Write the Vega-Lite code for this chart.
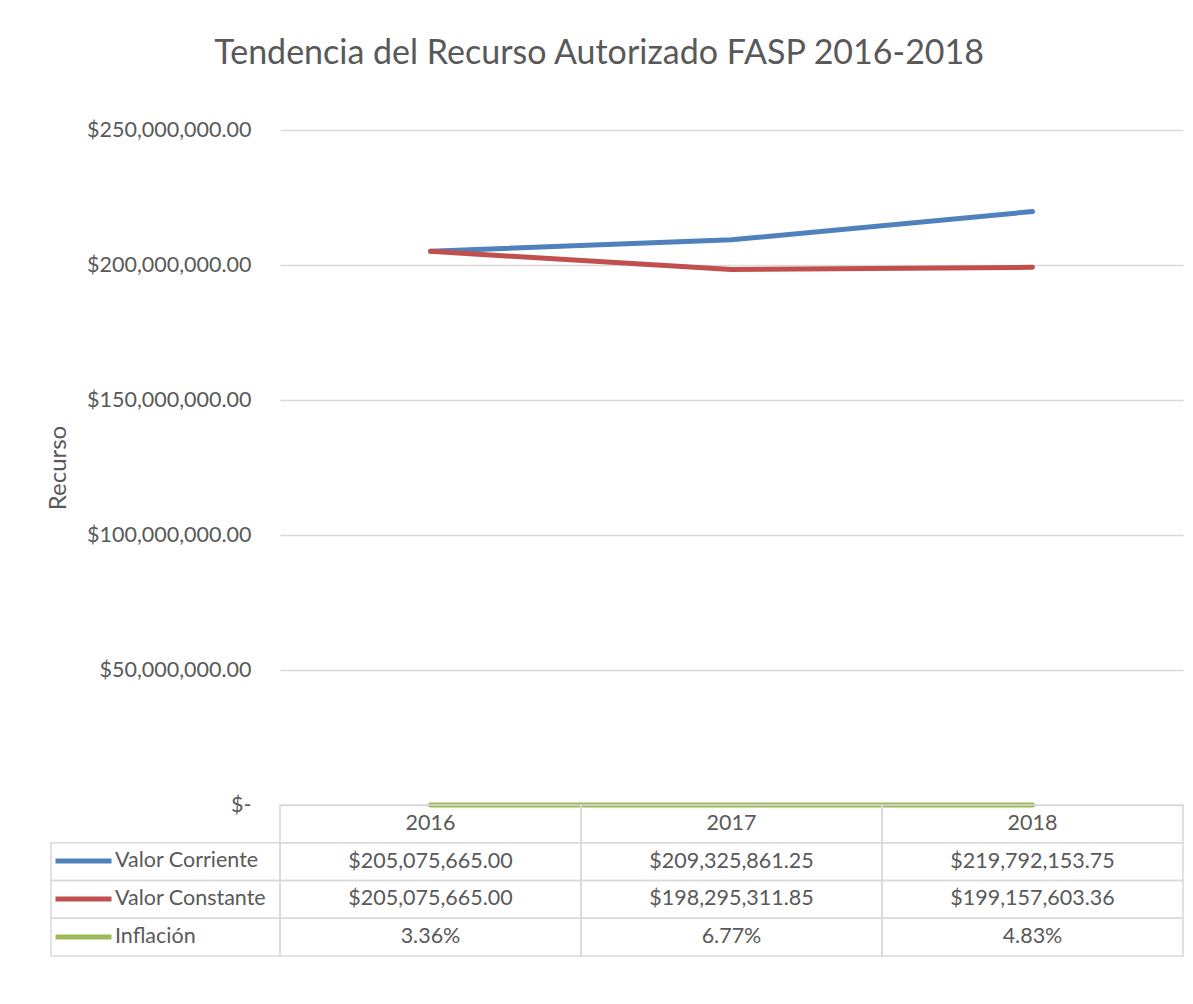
{
  "$schema": "https://vega.github.io/schema/vega-lite/v6.json",
  "padding": {"left": 46, "top": 37, "right": 5, "bottom": 5},
  "background": "white",
  "title": {
    "text": "Tendencia del Recurso Autorizado FASP 2016-2018",
    "font": "Lato",
    "fontSize": 34,
    "fontWeight": "normal",
    "color": "#595959",
    "anchor": "middle",
    "dx": -16,
    "offset": 48
  },
  "datasets": {
    "datos": [
      {"year": 2016, "serie": "Valor Corriente", "valor": 205075665.00},
      {"year": 2017, "serie": "Valor Corriente", "valor": 209325861.25},
      {"year": 2018, "serie": "Valor Corriente", "valor": 219792153.75},
      {"year": 2016, "serie": "Valor Constante", "valor": 205075665.00},
      {"year": 2017, "serie": "Valor Constante", "valor": 198295311.85},
      {"year": 2018, "serie": "Valor Constante", "valor": 199157603.36},
      {"year": 2016, "serie": "Inflación", "valor": 0.0336},
      {"year": 2017, "serie": "Inflación", "valor": 0.0677},
      {"year": 2018, "serie": "Inflación", "valor": 0.0483}
    ]
  },
  "columns": 2,
  "spacing": 0,
  "bounds": "flush",
  "resolve": {"scale": {"color": "independent", "x": "independent", "y": "independent"}, "legend": {"color": "independent"}},
  "concat": [
    {
      "width": 229,
      "height": 675,
      "data": {"values": []},
      "mark": "point"
    },
    {
      "width": 903,
      "height": 675,
      "data": {"name": "datos"},
      "mark": {"type": "line", "strokeWidth": 5, "strokeCap": "round", "strokeJoin": "round"},
      "encoding": {
        "x": {"field": "year", "type": "ordinal", "axis": null},
        "y": {
          "field": "valor",
          "type": "quantitative",
          "scale": {"domain": [0, 250000000], "nice": false},
          "axis": {
            "values": [0, 50000000, 100000000, 150000000, 200000000, 250000000],
            "labelExpr": "datum.value == 0 ? '$-\u00a0\u00a0' : format(datum.value, '$,.2f')",
            "domain": false,
            "ticks": false,
            "grid": true,
            "gridColor": "#d9d9d9",
            "gridWidth": 1.5,
            "labelFont": "Lato",
            "labelFontSize": 21.5,
            "labelColor": "#595959",
            "labelPadding": 29,
            "title": "Recurso",
            "titleFont": "Lato",
            "titleFontSize": 24,
            "titleFontWeight": "normal",
            "titleColor": "#595959",
            "titlePadding": 16
          }
        },
        "color": {
          "field": "serie",
          "type": "nominal",
          "scale": {"domain": ["Valor Corriente", "Valor Constante", "Inflación"], "range": ["#4f81bd", "#c0504d", "#9bbb59"]},
          "legend": {
            "orient": "none",
            "legendX": -227,
            "legendY": 712,
            "title": null,
            "padding": 0,
            "symbolType": "stroke",
            "symbolSize": 3136,
            "symbolStrokeWidth": 5,
            "clipHeight": 38,
            "rowPadding": 0,
            "labelFont": "Lato",
            "labelFontSize": 21.5,
            "labelColor": "#595959",
            "labelOffset": 1
          }
        }
      }
    },
    {
      "width": 229,
      "height": 151,
      "data": {"name": "datos"},
      "transform": [{"filter": "datum.year == 2016"}],
      "mark": {"type": "rect", "fill": "transparent", "stroke": "#d9d9d9", "strokeWidth": 1.5},
      "encoding": {
        "y": {"field": "serie", "type": "nominal", "scale": {"domain": ["header", "Valor Corriente", "Valor Constante", "Inflación"], "paddingInner": 0, "paddingOuter": 0}, "axis": null}
      }
    },
    {
      "width": 903,
      "height": 151,
      "data": {"name": "datos"},
      "encoding": {
        "x": {"field": "year", "type": "ordinal", "scale": {"type": "band", "paddingInner": 0, "paddingOuter": 0}, "axis": null},
        "y": {"field": "serie", "type": "nominal", "scale": {"domain": ["header", "Valor Corriente", "Valor Constante", "Inflación"], "paddingInner": 0, "paddingOuter": 0}, "axis": null}
      },
      "layer": [
        {
          "mark": {"type": "rect", "fill": "transparent", "stroke": "#d9d9d9", "strokeWidth": 1.5}
        },
        {
          "transform": [{"filter": "datum.serie == 'Valor Corriente'"}],
          "mark": {"type": "rect", "fill": "transparent", "stroke": "#d9d9d9", "strokeWidth": 1.5},
          "encoding": {"y": {"datum": "header"}}
        },
        {
          "transform": [{"filter": "datum.serie == 'Valor Corriente'"}],
          "mark": {"type": "text", "font": "Lato", "fontSize": 21.5, "color": "#595959", "align": "center", "baseline": "middle"},
          "encoding": {"y": {"datum": "header"}, "text": {"field": "year", "type": "ordinal"}}
        },
        {
          "transform": [{"filter": "datum.serie != 'Inflación'"}],
          "mark": {"type": "text", "font": "Lato", "fontSize": 21.5, "color": "#595959", "align": "center", "baseline": "middle"},
          "encoding": {"text": {"field": "valor", "type": "quantitative", "format": "$,.2f"}}
        },
        {
          "transform": [{"filter": "datum.serie == 'Inflación'"}],
          "mark": {"type": "text", "font": "Lato", "fontSize": 21.5, "color": "#595959", "align": "center", "baseline": "middle"},
          "encoding": {"text": {"field": "valor", "type": "quantitative", "format": ".2%"}}
        }
      ]
    }
  ],
  "config": {"view": {"stroke": null}}
}
